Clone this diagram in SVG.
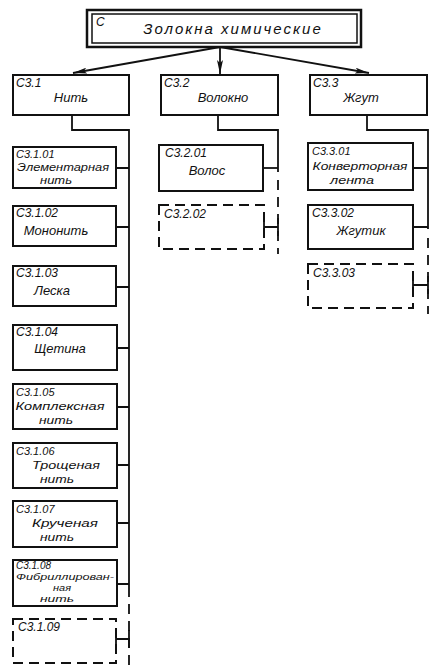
<svg xmlns="http://www.w3.org/2000/svg" width="443" height="670" viewBox="0 0 443 670">
<style>
.b{fill:#fff;stroke:#111;stroke-width:2}
.d{fill:none;stroke:#111;stroke-width:2;stroke-dasharray:10 6}
.l{fill:none;stroke:#111;stroke-width:1.8}
.ld{fill:none;stroke:#111;stroke-width:1.8;stroke-dasharray:10 7}
text{font-family:"Liberation Sans","DejaVu Sans",sans-serif;font-style:italic;fill:#111}
.c{font-size:12px}
.c2{font-size:11px}
.n{font-size:13px;text-anchor:middle}
.m{font-size:11.5px;text-anchor:middle}
.s{font-size:9.5px;text-anchor:middle}
.t{font-size:15px;letter-spacing:2px;text-anchor:middle}
</style>
<defs>
<marker id="ah" viewBox="0 0 14 6" refX="14" refY="3" markerWidth="14" markerHeight="6" markerUnits="userSpaceOnUse" orient="auto">
<path d="M0,0 L14,3 L0,6 L3,3 Z" fill="#111"/>
</marker>
</defs>
<g id="connectors">
<path class="l" d="M220,47 L73,73" marker-end="url(#ah)"/>
<path class="l" d="M220,47 L220,74" marker-end="url(#ah)"/>
<path class="l" d="M220,47 L369,73" marker-end="url(#ah)"/>
<path class="l" d="M72,115 V130 H129 V597"/>
<path class="ld" d="M129,604 V667"/>
<path class="l" d="M116,168 H129 M116,227 H129 M116,287 H129 M117,348 H129 M117,407 H129 M117,465 H129 M117,523 H129 M117,584 H129"/>
<path class="l" d="M116,639 H129 M116,632 V646 M129,630 V648"/>
<path class="l" d="M218,115 V130 H278 V172"/>
<path class="ld" d="M278,180 V254"/>
<path class="l" d="M263,168 H278"/>
<path class="l" d="M264,227 H278 M264,220 V234 M278,218 V236"/>
<path class="l" d="M367,115 V130 H428 V229"/>
<path class="ld" d="M428,238 V314"/>
<path class="l" d="M413,168 H428 M413,227 H428"/>
<path class="l" d="M413,285 H428 M413,278 V292 M428,276 V294"/>
</g>
<g id="n-root">
<rect x="87" y="10" width="274" height="37" fill="#fff" stroke="#111" stroke-width="2.5"/>
<rect x="92" y="14" width="265" height="29" fill="none" stroke="#111" stroke-width="1.5"/>
<text class="c" x="96" y="26">С</text>
<text class="t" x="233" y="34">Золокна  химические</text>
</g>
<g id="n-c31">
<rect class="b" x="13" y="75" width="116" height="40"/>
<text class="c" x="16" y="87">С3.1</text>
<text class="n" x="71" y="102">Нить</text>
</g>
<g id="n-c32">
<rect class="b" x="161" y="75" width="117" height="40"/>
<text class="c" x="164" y="87">С3.2</text>
<text class="n" x="223" y="102">Волокно</text>
</g>
<g id="n-c33">
<rect class="b" x="310" y="75" width="117" height="40"/>
<text class="c" x="313" y="87">С3.3</text>
<text class="n" x="361" y="102">Жгут</text>
</g>
<g id="n-c3101">
<rect class="b" x="13" y="147" width="103" height="41"/>
<text class="c2" x="16" y="158">С3.1.01</text>
<text class="m" x="63" y="171" textLength="92" lengthAdjust="spacingAndGlyphs">Элементарная</text>
<text class="m" x="56" y="184" textLength="32" lengthAdjust="spacingAndGlyphs">нить</text>
</g>
<g id="n-c3102">
<rect class="b" x="13" y="206" width="103" height="40"/>
<text class="c" x="16" y="217">С3.1.02</text>
<text class="n" x="56" y="235">Мононить</text>
</g>
<g id="n-c3103">
<rect class="b" x="13" y="266" width="103" height="40"/>
<text class="c" x="16" y="277">С3.1.03</text>
<text class="n" x="52" y="295">Леска</text>
</g>
<g id="n-c3104">
<rect class="b" x="13" y="325" width="104" height="45"/>
<text class="c" x="16" y="336">С3.1.04</text>
<text class="n" x="60" y="353">Щетина</text>
</g>
<g id="n-c3105">
<rect class="b" x="13" y="384" width="104" height="45"/>
<text class="c2" x="16" y="396">С3.1.05</text>
<text class="m" x="60" y="410" textLength="89" lengthAdjust="spacingAndGlyphs">Комплексная</text>
<text class="m" x="56" y="424" textLength="34" lengthAdjust="spacingAndGlyphs">нить</text>
</g>
<g id="n-c3106">
<rect class="b" x="13" y="443" width="104" height="45"/>
<text class="c2" x="16" y="455">С3.1.06</text>
<text class="m" x="66" y="469" textLength="68" lengthAdjust="spacingAndGlyphs">Трощеная</text>
<text class="m" x="57" y="483" textLength="34" lengthAdjust="spacingAndGlyphs">нить</text>
</g>
<g id="n-c3107">
<rect class="b" x="13" y="501" width="104" height="46"/>
<text class="c2" x="16" y="513">С3.1.07</text>
<text class="m" x="65" y="527" textLength="66" lengthAdjust="spacingAndGlyphs">Крученая</text>
<text class="m" x="57" y="541" textLength="34" lengthAdjust="spacingAndGlyphs">нить</text>
</g>
<g id="n-c3108">
<rect class="b" x="13" y="560" width="104" height="46"/>
<text x="16" y="569" style="font-size:10px">С3.1.08</text>
<text class="s" x="65" y="580" textLength="98" lengthAdjust="spacingAndGlyphs">Фибриллирован-</text>
<text class="s" x="62" y="591" textLength="18" lengthAdjust="spacingAndGlyphs">ная</text>
<text class="s" x="57" y="602" textLength="34" lengthAdjust="spacingAndGlyphs">нить</text>
</g>
<g id="n-c3109">
<rect class="d" x="13" y="619" width="103" height="44"/>
<text class="c" x="18" y="631">С3.1.09</text>
</g>
<g id="n-c3201">
<rect class="b" x="159" y="145" width="104" height="46"/>
<text class="c" x="165" y="157">С3.2.01</text>
<text class="n" x="207" y="175">Волос</text>
</g>
<g id="n-c3202">
<rect class="d" x="159" y="205" width="105" height="44"/>
<text class="c" x="164" y="218">С3.2.02</text>
</g>
<g id="n-c3301">
<rect class="b" x="308" y="143" width="105" height="47"/>
<text class="c2" x="312" y="155">С3.3.01</text>
<text class="m" x="360" y="170" textLength="95" lengthAdjust="spacingAndGlyphs">Конверторная</text>
<text class="m" x="352" y="184" textLength="44" lengthAdjust="spacingAndGlyphs">лента</text>
</g>
<g id="n-c3302">
<rect class="b" x="308" y="205" width="105" height="44"/>
<text class="c" x="312" y="217">С3.3.02</text>
<text class="n" x="361" y="235">Жгутик</text>
</g>
<g id="n-c3303">
<rect class="d" x="308" y="264" width="105" height="44"/>
<text class="c" x="313" y="277">С3.3.03</text>
</g>
</svg>
